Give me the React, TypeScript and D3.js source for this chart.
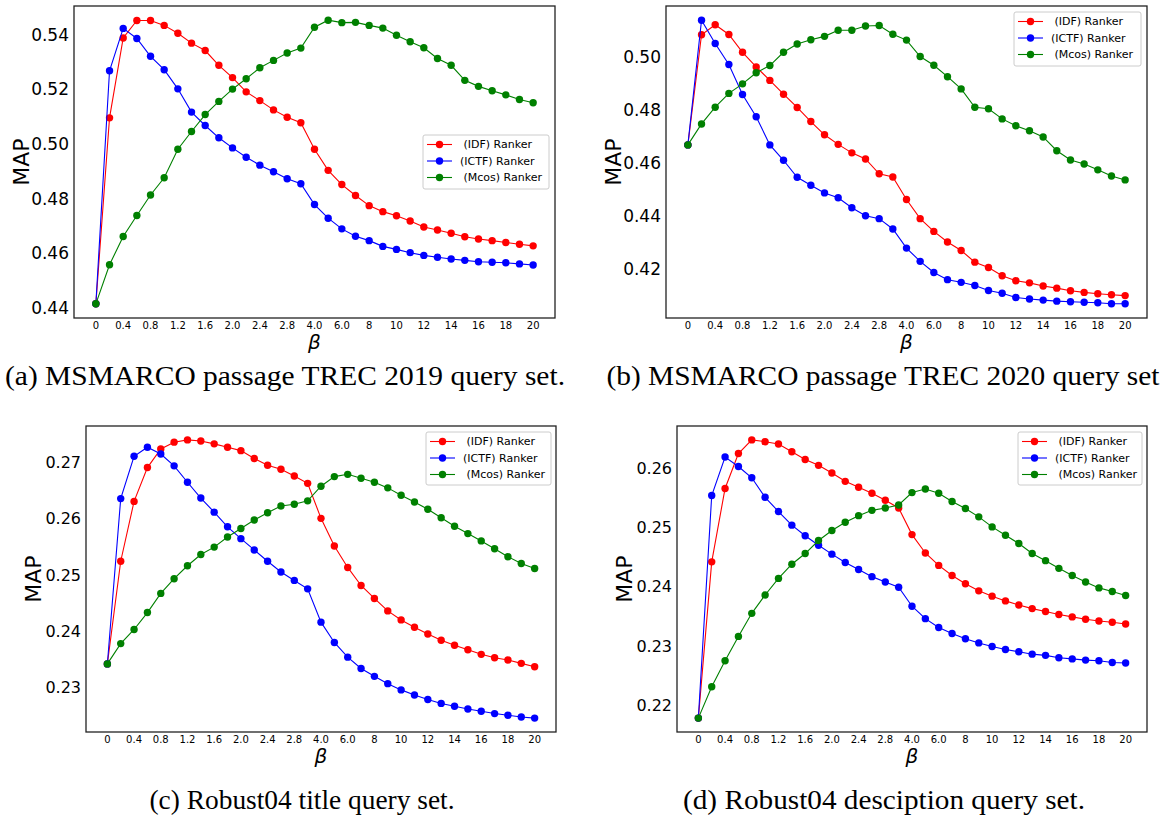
import React from "react";
import * as d3 from "d3";

const betas = ["0","0.2","0.4","0.6","0.8","1.0","1.2","1.4","1.6","1.8","2.0","2.2","2.4","2.6","2.8","3.0","4.0","5.0","6.0","7","8","9","10","11","12","13","14","15","16","17","18","19","20"];
const xTickLabels = ["0","0.4","0.8","1.2","1.6","2.0","2.4","2.8","4.0","6.0","8","10","12","14","16","18","20"];
const seriesNames = [" (IDF) Ranker", "(ICTF) Ranker", " (Mcos) Ranker"];
const seriesColors = ["#ff0000", "#0000ff", "#008000"];

const idfA = [0.4415,0.5095,0.5387,0.5451,0.5451,0.5433,0.5404,0.5368,0.5341,0.5287,0.5242,0.5190,0.5158,0.5124,0.5097,0.5077,0.4980,0.4903,0.4851,0.4811,0.4774,0.4752,0.4737,0.4718,0.4696,0.4685,0.4673,0.4660,0.4652,0.4646,0.4639,0.4633,0.4627];
const ictfA = [0.4415,0.5267,0.5422,0.5385,0.5320,0.5271,0.5201,0.5116,0.5067,0.5022,0.4985,0.4951,0.4922,0.4898,0.4872,0.4854,0.4778,0.4728,0.4689,0.4662,0.4646,0.4625,0.4614,0.4602,0.4592,0.4585,0.4579,0.4574,0.4569,0.4567,0.4565,0.4561,0.4557];
const mcosA = [0.4415,0.4558,0.4661,0.4738,0.4813,0.4876,0.4980,0.5045,0.5107,0.5155,0.5200,0.5238,0.5278,0.5305,0.5332,0.5350,0.5426,0.5452,0.5443,0.5444,0.5433,0.5423,0.5397,0.5373,0.5351,0.5312,0.5287,0.5232,0.5210,0.5194,0.5179,0.5162,0.5150];
const yTicksA = [0.44,0.46,0.48,0.50,0.52,0.54];

const idfB = [0.4668,0.5083,0.5121,0.5084,0.5017,0.4962,0.4911,0.4859,0.4809,0.4756,0.4706,0.4670,0.4638,0.4615,0.4559,0.4547,0.4462,0.4390,0.4342,0.4302,0.4270,0.4226,0.4206,0.4175,0.4156,0.4148,0.4136,0.4128,0.4118,0.4112,0.4107,0.4103,0.4100];
const ictfB = [0.4668,0.5138,0.5050,0.4971,0.4858,0.4774,0.4668,0.4610,0.4546,0.4516,0.4487,0.4469,0.4431,0.4401,0.4390,0.4351,0.4279,0.4229,0.4187,0.4160,0.4150,0.4138,0.4119,0.4109,0.4093,0.4087,0.4083,0.4079,0.4077,0.4075,0.4073,0.4069,0.4069];
const mcosB = [0.4668,0.4747,0.4810,0.4862,0.4898,0.4940,0.4967,0.5017,0.5048,0.5064,0.5077,0.5100,0.5100,0.5116,0.5118,0.5085,0.5063,0.5001,0.4968,0.4925,0.4879,0.4810,0.4804,0.4766,0.4740,0.4721,0.4698,0.4646,0.4611,0.4596,0.4574,0.4551,0.4536];
const yTicksB = [0.42,0.44,0.46,0.48,0.50];

const idfC = [0.2342,0.2524,0.2630,0.2690,0.2723,0.2735,0.2739,0.2737,0.2732,0.2726,0.2720,0.2706,0.2694,0.2687,0.2675,0.2662,0.2600,0.2551,0.2513,0.2481,0.2458,0.2436,0.2420,0.2407,0.2395,0.2384,0.2375,0.2367,0.2359,0.2353,0.2349,0.2343,0.2337];
const ictfC = [0.2342,0.2635,0.2710,0.2726,0.2714,0.2693,0.2664,0.2636,0.2611,0.2585,0.2564,0.2544,0.2524,0.2505,0.2490,0.2475,0.2416,0.2380,0.2354,0.2334,0.2320,0.2307,0.2296,0.2287,0.2279,0.2272,0.2267,0.2262,0.2258,0.2254,0.2251,0.2248,0.2246];
const mcosC = [0.2342,0.2378,0.2403,0.2433,0.2467,0.2493,0.2516,0.2536,0.2549,0.2567,0.2582,0.2597,0.2610,0.2622,0.2625,0.2631,0.2657,0.2674,0.2678,0.2671,0.2664,0.2654,0.2641,0.2629,0.2616,0.2601,0.2586,0.2573,0.2560,0.2546,0.2532,0.2520,0.2511];
const yTicksC = [0.23,0.24,0.25,0.26,0.27];

const idfD = [0.2178,0.2442,0.2566,0.2625,0.2648,0.2645,0.2641,0.2628,0.2615,0.2605,0.2592,0.2578,0.2568,0.2558,0.2546,0.2533,0.2488,0.2457,0.2436,0.2419,0.2405,0.2393,0.2384,0.2376,0.2369,0.2363,0.2358,0.2353,0.2349,0.2345,0.2342,0.2340,0.2337];
const ictfD = [0.2178,0.2554,0.2619,0.2603,0.2584,0.2551,0.2527,0.2504,0.2486,0.2470,0.2455,0.2441,0.2429,0.2417,0.2408,0.2399,0.2367,0.2346,0.2331,0.2321,0.2312,0.2305,0.2299,0.2294,0.2290,0.2286,0.2284,0.2280,0.2278,0.2276,0.2275,0.2272,0.2271];
const mcosD = [0.2178,0.2231,0.2275,0.2316,0.2355,0.2386,0.2414,0.2438,0.2456,0.2478,0.2495,0.2509,0.2520,0.2529,0.2533,0.2538,0.2559,0.2565,0.2558,0.2544,0.2532,0.2518,0.2501,0.2487,0.2473,0.2456,0.2444,0.2431,0.2419,0.2408,0.2398,0.2392,0.2385];
const yTicksD = [0.22,0.23,0.24,0.25,0.26];

const captions = [
  "(a) MSMARCO passage TREC 2019 query set.",
  "(b) MSMARCO passage TREC 2020 query set",
  "(c) Robust04 title query set.",
  "(d) Robust04 desciption query set.",
];

type Panel = {
  series: number[][];
  yTicks: number[];
  caption: string;
  box: { x0: number; x1: number; y0: number; y1: number };
  yFont: number;
  legend: { x: number; y: number; w: number; h: number };
  capBox: { cx: number; cy: number; w: number };
};

const panels: Panel[] = [
  { series: [idfA, ictfA, mcosA], yTicks: yTicksA, caption: captions[0],
    box: { x0: 74, x1: 555, y0: 6, y1: 318 }, yFont: 17,
    legend: { x: 423, y: 135, w: 126, h: 54 }, capBox: { cx: 285, cy: 375, w: 560 } },
  { series: [idfB, ictfB, mcosB], yTicks: yTicksB, caption: captions[1],
    box: { x0: 666, x1: 1147, y0: 6, y1: 318 }, yFont: 17,
    legend: { x: 1014, y: 12, w: 127, h: 54 }, capBox: { cx: 883, cy: 375, w: 553 } },
  { series: [idfC, ictfC, mcosC], yTicks: yTicksC, caption: captions[2],
    box: { x0: 86, x1: 556, y0: 426, y1: 732 }, yFont: 16,
    legend: { x: 426, y: 432, w: 125, h: 53 }, capBox: { cx: 302, cy: 799, w: 305 } },
  { series: [idfD, ictfD, mcosD], yTicks: yTicksD, caption: captions[3],
    box: { x0: 677, x1: 1147, y0: 426, y1: 732 }, yFont: 16,
    legend: { x: 1018, y: 432, w: 124, h: 53 }, capBox: { cx: 884, cy: 799, w: 402 } },
];

const SANS = "'DejaVu Sans', sans-serif";
const SERIF = "'Liberation Serif', 'Times New Roman', serif";

function PanelView({ p }: { p: Panel }) {
  const { x0, x1, y0, y1 } = p.box;
  const x = d3.scalePoint<string>().domain(betas).range([x0, x1]).padding(1.6);
  const all = p.series.flat();
  const [mn, mx] = d3.extent(all) as [number, number];
  const pad = (mx - mn) * 0.05;
  const y = d3.scaleLinear().domain([mn - pad, mx + pad]).range([y1, y0]);
  const line = d3.line<number>().x((_, i) => x(betas[i]) as number).y((v) => y(v));
  const cx = (x0 + x1) / 2;
  const cy = (y0 + y1) / 2;
  return (
    <g>
      <rect x={x0} y={y0} width={x1 - x0} height={y1 - y0} fill="#fff" />
      {p.series.map((s, si) => (
        <g key={si}>
          <path d={line(s) || ""} fill="none" stroke={seriesColors[si]} strokeWidth={1.1} />
          {s.map((v, i) => (
            <circle key={i} cx={x(betas[i])} cy={y(v)} r={3.7} fill={seriesColors[si]} />
          ))}
        </g>
      ))}
      <rect x={x0} y={y0} width={x1 - x0} height={y1 - y0} fill="none" stroke="#222" strokeWidth={1.3} />
      {p.yTicks.map((t) => (
        <text key={t} x={x0 - 5} y={y(t)} dy="0.36em" textAnchor="end" fontFamily={SANS} fontSize={p.yFont} fill="#000">
          {t.toFixed(2)}
        </text>
      ))}
      {xTickLabels.map((t) => (
        <text key={t} x={x(t)} y={y1 + 11} textAnchor="middle" fontFamily={SANS} fontSize={10} fill="#000">
          {t}
        </text>
      ))}
      <text x={cx} y={y1 + 31} textAnchor="middle" fontFamily={SANS} fontStyle="italic" fontSize={20} fill="#000">β</text>
      <text transform={`translate(${x0 - 45},${cy}) rotate(-90)`} textAnchor="middle" fontFamily={SANS} fontSize={22} fill="#000">MAP</text>
      <g>
        <rect x={p.legend.x} y={p.legend.y} width={p.legend.w} height={p.legend.h} rx={2} fill="#fff" fillOpacity={0.8} stroke="#ccc" strokeWidth={1} />
        {seriesNames.map((n, i) => {
          const ly = p.legend.y + 9.5 + i * 16.5;
          return (
            <g key={n}>
              <line x1={p.legend.x + 4} x2={p.legend.x + 29} y1={ly} y2={ly} stroke={seriesColors[i]} strokeWidth={1.1} />
              <circle cx={p.legend.x + 16.5} cy={ly} r={3.7} fill={seriesColors[i]} />
              <text x={p.legend.x + 37} y={ly} dy="0.36em" fontFamily={SANS} fontSize={11} fill="#000" style={{ whiteSpace: "pre" }}>
                {n}
              </text>
            </g>
          );
        })}
      </g>
      <text x={p.capBox.cx} y={p.capBox.cy} dy="0.35em" textAnchor="middle" fontFamily={SERIF} fontSize={28}
        textLength={p.capBox.w} lengthAdjust="spacingAndGlyphs" fill="#000">
        {p.caption}
      </text>
    </g>
  );
}

export default function App() {
  return (
    <svg width={1170} height={820} viewBox="0 0 1170 820" style={{ position: "absolute", left: 0, top: 0, background: "#fff" }}>
      <rect x={0} y={0} width={1170} height={820} fill="#fff" />
      {panels.map((p, i) => (
        <PanelView key={i} p={p} />
      ))}
    </svg>
  );
}
